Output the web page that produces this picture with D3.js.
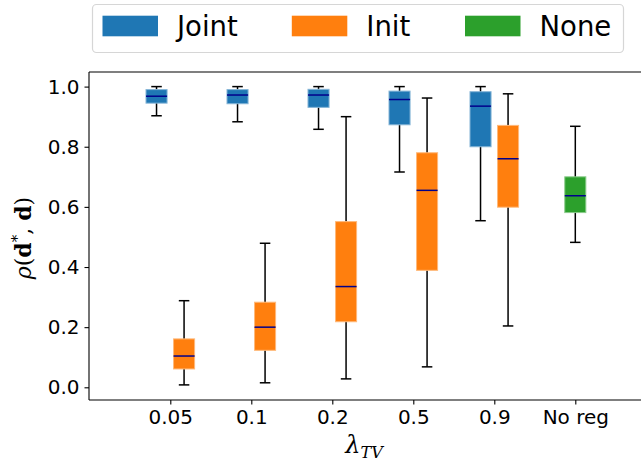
<!DOCTYPE html>
<html>
<head>
  <script src="https://d3js.org/d3.v7.min.js"></script>
  <style>
    body { margin: 0; background: #fff; }
    svg { font-family: "DejaVu Sans", sans-serif; }
  </style>
</head>
<body>
  <svg width="641" height="462"></svg>
  <script>
    // categories on the x axis
    var categories = ["0.05", "0.1", "0.2", "0.5", "0.9", "No reg"];
    var seriesNames = ["Joint", "Init", "None"];
    var seriesColors = ["#1f77b4", "#ff7f0e", "#2ca02c"];
    // box stats per category: [lower whisker, q1, median, q3, upper whisker]
    var jointStats = [
      [0.903, 0.945, 0.968, 0.990, 1.0],
      [0.883, 0.943, 0.972, 0.990, 1.0],
      [0.858, 0.931, 0.972, 0.991, 1.0],
      [0.716, 0.873, 0.957, 0.985, 1.0],
      [0.554, 0.800, 0.935, 0.983, 1.0]
    ];
    var initStats = [
      [0.008, 0.061, 0.104, 0.161, 0.288],
      [0.015, 0.123, 0.200, 0.283, 0.479],
      [0.028, 0.218, 0.335, 0.551, 0.900],
      [0.068, 0.389, 0.655, 0.780, 0.962],
      [0.204, 0.599, 0.760, 0.871, 0.976]
    ];
    var noneStats = [[0.482, 0.581, 0.637, 0.700, 0.868]];
    var yTicks = [0.0, 0.2, 0.4, 0.6, 0.8, 1.0];

    var svg = d3.select("svg");
    var margin = {left: 89, top: 72, bottom: 400};

    var x = d3.scaleLinear().domain([0, 7]).range([89.3, 656.3]);
    var y = d3.scaleLinear().domain([0, 1]).range([387.3, 86.6]);

    var boxW = x(0.26) - x(0);
    var off = x(0.17) - x(0);

    // build box list from the arrays
    var boxes = [];
    jointStats.forEach(function(s, i) { boxes.push({pos: i + 1, dx: -off, s: s, c: seriesColors[0]}); });
    initStats.forEach(function(s, i) { boxes.push({pos: i + 1, dx: off, s: s, c: seriesColors[1]}); });
    noneStats.forEach(function(s) { boxes.push({pos: 6, dx: 0, s: s, c: seriesColors[2]}); });

    var g = svg.append("g");

    var b = g.selectAll(".box").data(boxes).enter().append("g").attr("class", "box");

    // whiskers
    b.append("line")
      .attr("x1", function(d) { return x(d.pos) + d.dx; })
      .attr("x2", function(d) { return x(d.pos) + d.dx; })
      .attr("y1", function(d) { return y(d.s[0]); })
      .attr("y2", function(d) { return y(d.s[4]); })
      .attr("stroke", "#000").attr("stroke-width", 1.5);
    [0, 4].forEach(function(k) {
      b.append("line")
        .attr("x1", function(d) { return x(d.pos) + d.dx - boxW / 4; })
        .attr("x2", function(d) { return x(d.pos) + d.dx + boxW / 4; })
        .attr("y1", function(d) { return y(d.s[k]); })
        .attr("y2", function(d) { return y(d.s[k]); })
        .attr("stroke", "#000").attr("stroke-width", 1.5);
    });
    // box
    b.append("rect")
      .attr("x", function(d) { return x(d.pos) + d.dx - boxW / 2; })
      .attr("y", function(d) { return y(d.s[3]); })
      .attr("width", boxW)
      .attr("height", function(d) { return y(d.s[1]) - y(d.s[3]); })
      .attr("fill", function(d) { return d.c; })
      .attr("stroke", function(d) { return d3.interpolateRgb(d.c, "#fff")(0.45); })
      .attr("stroke-width", 1);
    // median
    b.append("line")
      .attr("x1", function(d) { return x(d.pos) + d.dx - boxW / 2; })
      .attr("x2", function(d) { return x(d.pos) + d.dx + boxW / 2; })
      .attr("y1", function(d) { return y(d.s[2]); })
      .attr("y2", function(d) { return y(d.s[2]); })
      .attr("stroke", "#00008b").attr("stroke-width", 1.5);

    // axes
    var yAxis = svg.append("g")
      .attr("transform", "translate(" + margin.left + ",0)")
      .call(d3.axisLeft(y).tickValues(yTicks).tickFormat(d3.format(".1f")).tickSize(4.5).tickPadding(5));
    var xAxis = svg.append("g")
      .attr("transform", "translate(0," + margin.bottom + ")")
      .call(d3.axisBottom(x).tickValues([1, 2, 3, 4, 5, 6])
        .tickFormat(function(d) { return categories[d - 1]; }).tickSize(4.5).tickPadding(5));
    [yAxis, xAxis].forEach(function(a) {
      a.select(".domain").remove();
      a.selectAll("text").attr("font-size", 20).attr("font-family", "DejaVu Sans").attr("fill", "#000");
      a.selectAll("line").attr("stroke", "#000").attr("stroke-width", 1.1);
    });

    // spines
    svg.append("line").attr("x1", 89).attr("x2", 641).attr("y1", 72).attr("y2", 72).attr("stroke", "#000").attr("stroke-width", 1.1);
    svg.append("line").attr("x1", 89).attr("x2", 641).attr("y1", 400).attr("y2", 400).attr("stroke", "#000").attr("stroke-width", 1.1);
    svg.append("line").attr("x1", 89).attr("x2", 89).attr("y1", 72).attr("y2", 400).attr("stroke", "#000").attr("stroke-width", 1.1);

    // axis labels
    var yl = svg.append("text")
      .attr("transform", "translate(31,238) rotate(-90)")
      .attr("text-anchor", "middle")
      .attr("font-family", "DejaVu Serif")
      .attr("font-size", 22);
    yl.append("tspan").attr("font-style", "italic").text("ρ");
    yl.append("tspan").text("(");
    yl.append("tspan").attr("font-weight", "bold").text("d");
    yl.append("tspan").attr("font-size", 15).attr("dy", -9).text("*");
    yl.append("tspan").attr("dy", 9).text(", ");
    yl.append("tspan").attr("font-weight", "bold").text("d");
    yl.append("tspan").text(")");

    var xl = svg.append("text")
      .attr("x", 364).attr("y", 453)
      .attr("text-anchor", "middle")
      .attr("font-family", "DejaVu Serif")
      .attr("font-size", 24);
    xl.append("tspan").attr("font-style", "italic").text("λ");
    xl.append("tspan").attr("font-style", "italic").attr("font-size", 16).attr("dy", 5).text("TV");

    // legend
    var lg = svg.append("g");
    lg.append("rect").attr("x", 92.5).attr("y", 4.5).attr("width", 531).attr("height", 48)
      .attr("rx", 4).attr("fill", "#fff").attr("stroke", "#d6d6d6").attr("stroke-width", 1.2);
    var legX = [102.5, 291.8, 465];
    seriesNames.forEach(function(n, i) {
      lg.append("rect").attr("x", legX[i]).attr("y", 15.7).attr("width", 55.5).attr("height", 20.6)
        .attr("fill", seriesColors[i]);
      lg.append("text").attr("x", legX[i] + 74.5).attr("y", 36)
        .attr("font-size", 27.5).attr("fill", "#000").text(n);
    });
  </script>
</body>
</html>
